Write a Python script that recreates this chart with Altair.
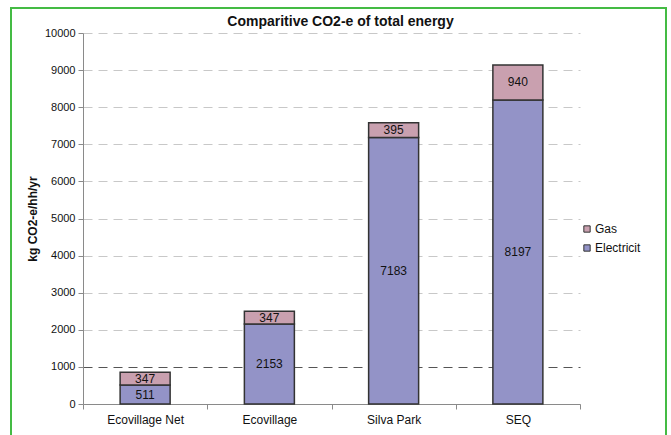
import altair as alt
import pandas as pd

# Chart data
categories = ["Ecovillage Net", "Ecovillage", "Silva Park", "SEQ"]
electricity = [511, 2153, 7183, 8197]
gas = [347, 347, 395, 940]
series = ["Gas", "Electricit"]
series_colors = ["#c9a0af", "#9393c7"]
y_ticks = list(range(0, 10001, 1000))

rows = []
for site, e, g in zip(categories, electricity, gas):
    rows.append({"site": site, "source": "Electricit", "kg": e, "rank": 0})
    rows.append({"site": site, "source": "Gas", "kg": g, "rank": 1})
df = pd.DataFrame(rows)

FONT = "Liberation Sans"

base = alt.Chart(df).transform_stack(
    stack="kg", groupby=["site"], as_=["y0", "y1"], sort=[alt.SortField("rank")]
).transform_calculate(mid="(datum.y0 + datum.y1) / 2")

x_scale = alt.Scale(paddingInner=0, paddingOuter=0)
x_axis = alt.Axis(
    title=None, labelAngle=0, tickBand="extent", labelFontSize=12,
    labelPadding=5, tickSize=5, labelColor="#111",
)

y_scale = alt.Scale(domain=[0, 10000], nice=False)
y_axis = alt.Axis(
    values=y_ticks, format="d", labelOverlap=False,
    title="kg CO2-e/hh/yr", titleFontSize=12,
    titleFontWeight="bold", titleColor="#111", titlePadding=5,
    labelFontSize=11, labelPadding=3, tickSize=5, labelColor="#111",
    grid=True, gridDash=[9, 6], gridWidth=1,
    gridColor=alt.condition("datum.value === 1000",
                            alt.value("#555555"), alt.value("#c8c8c8")),
)

bars = base.mark_bar(size=50, stroke="#333333", strokeWidth=1.5).encode(
    x=alt.X("site:N", sort=categories, scale=x_scale, axis=x_axis),
    y=alt.Y("y0:Q", scale=y_scale, axis=y_axis),
    y2="y1:Q",
    color=alt.Color(
        "source:N",
        scale=alt.Scale(domain=series, range=series_colors),
        legend=alt.Legend(
            title=None, orient="none", legendX=498, legendY=190,
            symbolType="square", symbolSize=40, symbolStrokeColor="#333333",
            symbolStrokeWidth=1, labelFontSize=12, labelFont=FONT,
            labelColor="#111", rowPadding=7, labelOffset=2,
        ),
    ),
)

labels = base.mark_text(fontSize=12, font=FONT, color="#111").encode(
    x=alt.X("site:N", sort=categories, scale=x_scale, axis=x_axis),
    y=alt.Y("mid:Q", scale=y_scale, axis=y_axis),
    text=alt.Text("kg:Q"),
)

frame = alt.Chart(pd.DataFrame({"k": [0]})).mark_rect(
    fillOpacity=0, stroke="#44bb44", strokeWidth=2
).encode(
    x=alt.value(-72), x2=alt.value(583), y=alt.value(-25), y2=alt.value(430)
)

chart = alt.layer(frame, bars, labels).properties(
    width=497,
    height=371,
    autosize=alt.AutoSizeParams(type="none"),
    padding={"left": 83, "top": 33, "right": 91, "bottom": 31},
    background="white",
    title=alt.TitleParams(
        "Comparitive CO2-e of total energy", fontSize=14, font=FONT,
        fontWeight="bold", color="#111", anchor="middle", offset=0, dx=9,
        dy=22, frame="group",
    ),
).configure_view(stroke=None).configure_axis(
    labelFont=FONT, titleFont=FONT, domainColor="#8a8a8a", tickColor="#8a8a8a",
)

chart.save("out.html", embed_options={"renderer": "svg", "actions": False})
